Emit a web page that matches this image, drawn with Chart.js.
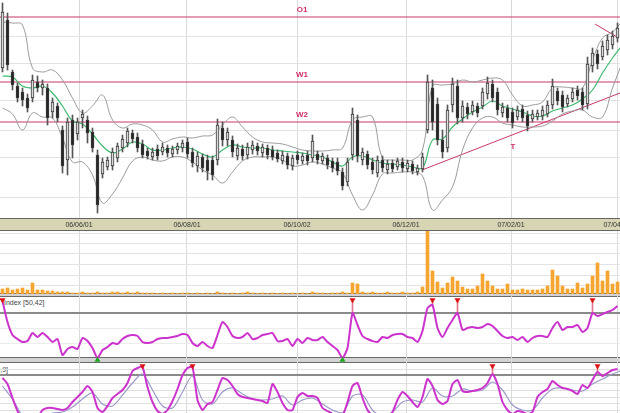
<!DOCTYPE html>
<html>
<head>
<meta charset="utf-8">
<script src="https://cdn.jsdelivr.net/npm/chart.js@4.4.1/dist/chart.umd.min.js"></script>
<style>
  html, body { margin: 0; padding: 0; background: #fff; }
  #wrap { position: relative; width: 620px; height: 413px; overflow: hidden; font-family: 'Liberation Sans', Arial, sans-serif; }
  .sep { position: absolute; left: 0; width: 620px; background: #d2d2d2; border-top: 1px solid #6a6a6a; border-bottom: 1px solid #6a6a6a; }
  .lbl { position: absolute; font-size: 7px; color: #444; white-space: nowrap; }
  canvas { position: absolute; left: 0; }
</style>
</head>
<body>
<div id="wrap">
  <div class="sep" style="top:293px;height:2px"></div>
  <div class="sep" style="top:357px;height:4px"></div>
  <div class="lbl" style="left:4px;top:299px">Index [50,42]</div>
  <div class="lbl" style="right:612px;top:366px">Stoch [14,3,9]</div>
  <canvas id="priceChart" width="620" height="231" style="top:0"></canvas>
  <canvas id="volChart" width="620" height="63" style="top:231px"></canvas>
  <canvas id="idxChart" width="620" height="67" style="top:296px"></canvas>
  <canvas id="stochChart" width="620" height="50" style="top:363px"></canvas>
</div>
<script>
Chart.defaults.font.family = '"Liberation Sans", Arial, sans-serif';

// ── data ─────────────────────────────────────────────────────────
const dateSlots = [15.3, 36.9, 58.9, 80.7, 101.7, 122.9];
const dateLabels = ['06/06/01', '06/08/01', '06/10/02', '06/12/01', '07/02/01', '07/04/02'];

const open = [
    15.2, 20.0, 14.8, 13.4, 12.8, 12.2, 12.2, 13.8, 13.2, 13.2,
    10.8, 11.4, 9.0, 6.0, 10.0, 8.6, 10.2, 10.0, 8.8, 6.5,
    4.6, 5.3, 5.4, 6.2, 7.2, 7.7, 8.7, 8.3, 7.6, 6.9,
    6.3, 7.1, 6.8, 7.2, 6.6, 7.0, 7.2, 7.8, 6.8, 5.4,
    6.3, 6.0, 6.0, 6.0, 9.2, 8.0, 8.0, 6.4, 7.1, 6.5,
    7.0, 7.4, 6.7, 7.2, 7.0, 6.7, 5.9, 6.4, 5.4, 6.5,
    5.9, 6.5, 6.2, 6.6, 5.9, 6.2, 5.9, 5.8, 4.8, 3.8,
    6.5, 10.0, 6.0, 6.6, 5.8, 4.7, 6.0, 5.0, 5.7, 5.3,
    5.8, 5.1, 5.6, 4.8, 5.1, 9.0, 13.2, 11.6, 8.0, 7.2,
    11.5, 13.4, 10.2, 11.3, 10.8, 11.4, 11.4, 12.6, 13.6, 12.8,
    10.7, 11.2, 10.8, 10.3, 11.1, 10.5, 10.1, 10.3, 10.4, 10.6,
    11.5, 12.9, 12.5, 11.6, 12.1, 13.0, 12.8, 11.6, 15.4, 16.6,
    16.3, 17.0, 17.5, 18.2
];
const high = [
    21.7, 20.7, 15.0, 13.7, 13.2, 12.6, 14.5, 14.4, 14.0, 13.6,
    12.2, 11.7, 9.4, 10.2, 10.5, 10.2, 11.0, 10.4, 9.2, 7.0,
    6.2, 6.3, 7.2, 7.7, 8.5, 9.2, 9.0, 8.7, 8.0, 7.2,
    7.2, 7.5, 7.7, 7.5, 7.4, 7.7, 8.0, 8.2, 7.2, 6.8,
    6.6, 6.5, 6.4, 10.1, 9.8, 9.2, 8.4, 7.6, 7.5, 7.7,
    7.9, 7.7, 7.6, 7.5, 7.4, 7.0, 6.9, 6.7, 6.5, 6.9,
    6.7, 6.9, 8.5, 6.9, 6.7, 6.5, 6.2, 6.2, 5.2, 6.2,
    11.2, 10.5, 7.2, 6.9, 6.2, 6.4, 6.4, 6.0, 6.0, 6.2,
    6.2, 6.0, 5.9, 5.5, 6.7, 14.5, 14.0, 12.2, 9.0, 11.5,
    14.2, 14.0, 11.9, 11.7, 11.9, 11.7, 13.2, 14.3, 14.0, 13.2,
    11.7, 11.5, 11.2, 11.4, 11.5, 10.9, 11.0, 11.0, 11.4, 11.9,
    14.1, 13.2, 12.9, 12.5, 13.2, 13.4, 13.2, 16.3, 17.2, 17.0,
    17.9, 18.5, 18.9, 19.7
];
const low = [
    14.8, 15.0, 13.0, 11.8, 11.4, 10.8, 11.8, 12.8, 12.5, 9.5,
    10.2, 9.8, 4.7, 4.5, 6.2, 8.0, 9.2, 7.7, 6.8, 0.7,
    4.2, 5.0, 5.0, 5.8, 6.8, 7.3, 7.7, 6.8, 6.2, 6.1,
    6.0, 6.0, 6.5, 6.3, 6.3, 6.6, 6.8, 6.2, 5.3, 4.8,
    4.8, 4.0, 4.0, 5.5, 7.4, 7.4, 6.3, 6.0, 6.0, 6.1,
    6.6, 6.5, 6.3, 6.1, 6.0, 5.8, 5.6, 5.1, 5.0, 5.6,
    5.6, 5.5, 5.8, 5.6, 5.6, 5.1, 4.8, 4.5, 3.0, 3.4,
    6.0, 5.8, 5.5, 5.1, 4.6, 4.3, 4.8, 4.6, 4.8, 5.0,
    4.8, 4.8, 4.6, 4.5, 4.8, 8.7, 9.0, 7.5, 6.2, 6.8,
    10.8, 9.6, 9.8, 10.1, 10.5, 10.3, 11.1, 12.1, 11.8, 10.5,
    10.3, 9.8, 9.2, 10.0, 9.8, 8.9, 9.8, 10.0, 10.0, 10.3,
    11.1, 11.5, 10.8, 11.3, 11.8, 12.0, 11.0, 11.1, 14.8, 15.1,
    16.0, 16.5, 17.1, 17.8
];
const close = [
    20.8, 15.5, 13.5, 12.2, 12.0, 11.2, 14.0, 13.2, 13.6, 10.2,
    11.8, 10.2, 5.4, 9.8, 7.5, 9.8, 10.6, 8.7, 7.2, 1.5,
    5.8, 6.0, 6.8, 7.4, 8.1, 8.9, 8.1, 7.2, 6.5, 6.4,
    6.8, 6.4, 7.3, 6.7, 7.1, 7.4, 7.7, 6.6, 5.7, 6.4,
    5.2, 4.9, 4.5, 9.5, 8.0, 8.8, 6.8, 7.2, 6.4, 7.3,
    7.5, 6.9, 7.3, 6.5, 6.3, 6.1, 6.5, 5.5, 6.2, 6.0,
    6.4, 5.9, 7.9, 6.0, 6.4, 5.5, 5.2, 4.9, 3.4, 5.8,
    10.6, 6.4, 6.8, 5.5, 5.0, 6.0, 5.2, 5.6, 5.1, 5.9,
    5.2, 5.7, 4.9, 5.2, 6.3, 13.8, 9.8, 8.0, 6.8, 11.0,
    13.6, 10.2, 11.4, 10.6, 11.5, 10.7, 12.8, 13.7, 12.2, 11.0,
    11.3, 10.2, 9.7, 11.0, 10.2, 9.4, 10.6, 10.7, 11.0, 11.5,
    13.4, 11.9, 11.3, 12.2, 12.8, 12.4, 11.5, 15.6, 16.7, 15.6,
    17.4, 18.0, 18.4, 19.2
];

// Bollinger bands and their middle line, read every second bar
const bandUpper = [
    19.8, 19.7, 19.5, 15.2, 14.8, 15.0, 14.0, 12.2, 10.7, 11.4,
    12.5, 10.0, 9.2, 9.6, 9.5, 9.0, 7.8, 8.1, 8.3, 8.2,
    8.4, 8.5, 9.5, 10.3, 9.3, 8.3, 7.8, 7.7, 7.6, 7.3,
    7.0, 6.9, 6.9, 7.0, 7.2, 10.0, 10.3, 10.3, 6.2, 6.0,
    6.0, 6.0, 7.0, 13.4, 13.5, 13.6, 14.0, 13.8, 14.0, 14.2,
    14.0, 12.5, 11.4, 11.5, 11.8, 13.2, 13.3, 13.2, 13.2, 16.0,
    18.2, 18.8, 19.9
];
const bandMid = [
    14.4, 14.3, 13.4, 13.2, 13.4, 12.7, 11.4, 9.9, 9.6, 8.6,
    7.4, 6.7, 7.1, 7.8, 7.6, 7.0, 7.0, 7.2, 7.3, 7.1,
    6.6, 6.3, 7.0, 7.5, 7.3, 7.2, 7.2, 7.0, 6.9, 6.8,
    6.7, 6.5, 6.3, 5.8, 5.4, 6.3, 6.4, 6.0, 5.7, 5.6,
    5.5, 5.3, 5.2, 8.0, 8.1, 9.3, 10.1, 10.8, 11.3, 11.9,
    11.4, 11.1, 10.8, 10.4, 10.4, 10.9, 11.2, 11.5, 12.1, 13.0,
    14.7, 16.2, 17.5
];
const bandLower = [
    11.2, 10.6, 9.0, 10.7, 10.3, 10.2, 8.2, 5.8, 5.8, 4.5,
    1.7, 2.6, 4.2, 5.9, 6.3, 6.0, 5.9, 6.3, 6.3, 5.8,
    5.0, 4.5, 3.7, 4.8, 5.9, 6.3, 6.3, 6.3, 6.0, 5.4,
    5.5, 5.8, 5.6, 5.2, 4.7, 2.5, 1.0, 2.5, 4.6, 4.7,
    4.8, 4.8, 4.4, 1.0, 2.0, 3.3, 7.0, 9.2, 10.2, 10.3,
    9.7, 9.5, 9.3, 9.3, 9.4, 9.9, 10.6, 10.9, 11.0, 10.3,
    10.3, 13.2, 15.8
];
const bandSlots = bandUpper.map((_, k) => 2 * k);

const priceGrid = [18.4, 15.7, 12.0, 9.0, 6.3, 2.3];
const levelNames = ['O1', 'W1', 'W2'];
const levelValues = [20.3, 13.8, 9.8];
const levelLabelSlot = 59.9;
const trendX = [83.9, 123.5];
const trendY = [5.0, 12.7];
const fanX = [118.5, 122.9];
const fanY = [19.6, 18.3];
const trendLabel = [102.1, 7.3];

const volume = [
    50, 60, 40, 50, 60, 40, 110, 40, 40, 30,
    30, 20, 20, 20, 10, 10, 20, 10, 10, 20,
    10, 10, 20, 20, 10, 20, 10, 20, 10, 10,
    10, 5, 10, 5, 10, 5, 10, 10, 5, 10,
    5, 10, 5, 20, 10, 5, 10, 5, 10, 20,
    10, 5, 10, 5, 10, 5, 10, 5, 10, 5,
    10, 5, 20, 10, 10, 5, 10, 10, 20, 10,
    110, 100, 20, 10, 20, 10, 10, 20, 10, 10,
    20, 10, 10, 20, 70, 630, 230, 120, 60, 110,
    170, 130, 70, 50, 50, 80, 200, 130, 80, 50,
    50, 100, 40, 40, 50, 40, 40, 40, 50, 80,
    240, 180, 80, 50, 50, 110, 60, 100, 180, 310,
    130, 230, 100, 120
];
const volGrid = [90, 190, 300, 410, 510, 610];

const indexValues = [
    114, 72, 46, 38, 32, 34, 50, 42, 50, 42,
    32, 38, 6, 18, 22, 18, 40, 34, 20, 0,
    16, 22, 30, 28, 38, 44, 46, 44, 32, 30,
    32, 38, 40, 40, 42, 44, 48, 46, 30, 24,
    32, 24, 20, 46, 72, 62, 44, 40, 42, 50,
    38, 40, 46, 48, 50, 34, 34, 38, 24, 38,
    30, 40, 36, 36, 42, 32, 24, 16, 0, 20,
    90, 66, 44, 38, 34, 32, 42, 40, 46, 48,
    48, 42, 40, 32, 54, 100, 106, 60, 42, 60,
    76, 90, 56, 60, 62, 60, 62, 68, 64, 54,
    44, 40, 42, 36, 42, 32, 40, 44, 44, 42,
    60, 72, 56, 62, 62, 66, 52, 60, 90, 84,
    88, 92, 96, 104
];
const indexLevel = 90;
const indexGrid = [30, 60];
const indexTops = [0, 70, 86, 91, 118];
const indexBottoms = [19, 68];

const stochK = [
    72, 60, 32, 6, -12, -22, -16, -8, 8, 12,
    12, 10, 8, 12, 24, 34, 44, 56, 44, 12,
    4, 16, 32, 40, 48, 62, 86, 92, 94, 54,
    24, 6, 0, 8, 26, 50, 78, 92, 94, 28,
    8, 20, 24, 48, 72, 68, 56, 40, 34, 32,
    30, 28, 26, 22, 60, 44, 22, 8, 8, 34,
    42, 36, 36, 32, 12, 6, 0, -8, -4, 24,
    56, 62, 32, 8, -4, -12, -12, -8, 4, 28,
    44, 36, 24, 14, 34, 70, 56, 28, 20, 26,
    60, 68, 46, 44, 46, 48, 52, 62, 80, 60,
    24, 8, 0, 6, 4, 0, 4, 34, 44, 50,
    66, 58, 52, 50, 46, 40, 58, 52, 68, 84,
    76, 82, 88, 90
];
// signal line, read every second bar
const stochD = [
    56, 30, -4, -16, -8, 2, 4, 14, 30, 42,
    20, 16, 38, 62, 80, 48, 16, 12, 44, 76,
    28, 20, 44, 52, 40, 30, 28, 30, 36, 18,
    28, 32, 20, 8, 2, 36, 38, 8, -4, 4,
    24, 28, 24, 52, 36, 36, 50, 46, 48, 64,
    48, 18, 8, 8, 32, 50, 52, 48, 46, 60,
    70, 80, 88
];
const stochLevel = 78;
const stochGrid = [8, 22, 34, 48, 62, 90];
const stochTops = [28, 38, 98, 119];

// ── helpers ──────────────────────────────────────────────────────
const slots = open.map((_, i) => i);
const pts = (xs, ys) => xs.map((x, k) => ({ x, y: ys[k] }));
const hLine = (v) => [{ x: -0.5, y: v }, { x: 123.5, y: v }];

const xScale = (labels) => ({
    type: 'linear', min: -0.5, max: 123.5, offset: false,
    afterBuildTicks: (s) => { s.ticks = dateSlots.map(v => ({ value: v })); },
    grid: { color: '#dadada', drawTicks: false, offset: false },
    border: { display: false },
    ticks: labels
        ? { autoSkip: false, maxRotation: 0, padding: 3, font: { size: 7 }, color: '#333',
            callback: (v, i) => dateLabels[i] }
        : { display: false },
    afterFit: (s) => { s.height = labels ? 13 : 0; s.paddingLeft = 0; s.paddingRight = 0; },
});

const yScale = (min, max, grid, color) => ({
    type: 'linear', min, max,
    afterBuildTicks: (s) => { s.ticks = grid.map(v => ({ value: v })); },
    grid: { color, drawTicks: false },
    border: { display: false },
    ticks: { display: false },
    afterFit: (s) => { s.width = 0; },
});

const baseOptions = (x, y) => ({
    responsive: false,
    animation: false,
    devicePixelRatio: 1,
    events: [],
    layout: { padding: 0, autoPadding: false },
    plugins: { legend: { display: false }, tooltip: { enabled: false } },
    elements: { point: { radius: 0 } },
    scales: { x, y },
});

// ── price panel ──────────────────────────────────────────────────
const priceDecor = {
    id: 'priceDecor',
    beforeDraw(chart) {
        const { ctx, chartArea, width, height } = chart;
        ctx.save();
        ctx.fillStyle = '#d7d5b3';
        ctx.fillRect(0, chartArea.bottom, width, height - chartArea.bottom);
        ctx.fillStyle = '#666';
        ctx.fillRect(0, chartArea.bottom, width, 1);
        ctx.fillRect(0, height - 1, width, 1);
        ctx.restore();
    },
    afterDatasetsDraw(chart) {
        const { ctx, scales: { x, y } } = chart;
        ctx.save();
        ctx.font = 'bold 8px "Liberation Sans", Arial, sans-serif';
        ctx.fillStyle = '#cf2f6a';
        ctx.textAlign = 'center';
        ctx.textBaseline = 'bottom';
        levelNames.forEach((name, k) => {
            ctx.fillText(name, x.getPixelForValue(levelLabelSlot), y.getPixelForValue(levelValues[k]) - 3);
        });
        ctx.textBaseline = 'middle';
        ctx.fillText('T', x.getPixelForValue(trendLabel[0]), y.getPixelForValue(trendLabel[1]));
        ctx.restore();
    }
};

const levelColor = '#c9386d';

new Chart(document.getElementById('priceChart'), {
    type: 'line',
    data: {
        datasets: [
            ...levelValues.map(v => ({
                data: hLine(v), borderColor: levelColor, borderWidth: 1.2, order: 6,
            })),
            { data: pts(trendX, trendY), borderColor: levelColor, borderWidth: 1, order: 6 },
            { data: pts(fanX, fanY), borderColor: levelColor, borderWidth: 1, order: 6 },
            { data: pts(bandSlots, bandUpper), borderColor: '#9b9b9b', borderWidth: 1, tension: 0.4, order: 5 },
            { data: pts(bandSlots, bandLower), borderColor: '#9b9b9b', borderWidth: 1, tension: 0.4, order: 5 },
            { data: pts(bandSlots, bandMid), borderColor: '#3dba6e', borderWidth: 1.2, tension: 0.4, order: 4 },
            {
                type: 'bar', grouped: false, order: 3,
                data: slots.map(i => ({ x: i, y: [low[i], high[i]] })),
                barThickness: 1, backgroundColor: '#555',
            },
            {
                type: 'bar', grouped: false, order: 2,
                data: slots.map(i => ({ x: i, y: [open[i], close[i]] })),
                barThickness: 3, borderWidth: 1, borderSkipped: false, borderColor: '#3a3a3a',
                backgroundColor: slots.map(i => close[i] >= open[i] ? '#d9d9d9' : '#262626'),
            },
        ]
    },
    options: baseOptions(xScale(true), yScale(0.2, 22, priceGrid, '#e3e3e3')),
    plugins: [priceDecor],
});

// ── volume panel ─────────────────────────────────────────────────
new Chart(document.getElementById('volChart'), {
    type: 'line',
    data: {
        datasets: [{
            type: 'bar', grouped: false,
            data: slots.map(i => ({ x: i, y: volume[i] })),
            barThickness: 3, backgroundColor: '#f6a630', borderWidth: 0,
        }]
    },
    options: baseOptions(xScale(false), yScale(0, 630, volGrid, '#e3e3e3')),
});

// ── index panel ──────────────────────────────────────────────────
const magenta = '#cc33cc';
const markTop = 116, markBottom = -4;

new Chart(document.getElementById('idxChart'), {
    type: 'line',
    data: {
        datasets: [
            { data: hLine(indexLevel), borderColor: '#8a8a8a', borderWidth: 2, order: 5 },
            {
                type: 'bar', grouped: false, order: 4,
                data: indexTops.map(i => ({ x: i, y: [indexValues[i], markTop] })),
                barThickness: 1, backgroundColor: '#e07a8a',
            },
            { data: pts(slots, indexValues), borderColor: magenta, borderWidth: 2, tension: 0.2, order: 3 },
            {
                data: pts(indexTops, indexTops.map(() => markTop)), showLine: false, order: 1,
                pointStyle: 'triangle', rotation: 180, pointRadius: 3.5, pointBorderWidth: 0,
                pointBackgroundColor: '#dd1515',
            },
            {
                data: pts(indexBottoms, indexBottoms.map(() => markBottom)), showLine: false, order: 1,
                pointStyle: 'triangle', pointRadius: 3.5, pointBorderWidth: 0,
                pointBackgroundColor: '#1fa81f',
            },
        ]
    },
    options: baseOptions(xScale(false), yScale(-10, 124, indexGrid, '#ececec')),
});

// ── stochastic panel ─────────────────────────────────────────────
const stochMark = 96;

new Chart(document.getElementById('stochChart'), {
    type: 'line',
    data: {
        datasets: [
            { data: hLine(stochLevel), borderColor: '#8a8a8a', borderWidth: 2, order: 5 },
            {
                type: 'bar', grouped: false, order: 4,
                data: stochTops.map(i => ({ x: i, y: [stochK[i], stochMark] })),
                barThickness: 1, backgroundColor: '#e07a8a',
            },
            { data: pts(bandSlots, stochD), borderColor: '#9a9ac8', borderWidth: 1.2, tension: 0.3, order: 3 },
            { data: pts(slots, stochK), borderColor: magenta, borderWidth: 2, tension: 0.2, order: 2 },
            {
                data: pts(stochTops, stochTops.map(() => stochMark)), showLine: false, order: 1,
                pointStyle: 'triangle', rotation: 180, pointRadius: 3.5, pointBorderWidth: 0,
                pointBackgroundColor: '#dd1515',
            },
        ]
    },
    options: baseOptions(xScale(false), yScale(2, 102, stochGrid, '#e0e0e0')),
});
</script>
</body>
</html>
